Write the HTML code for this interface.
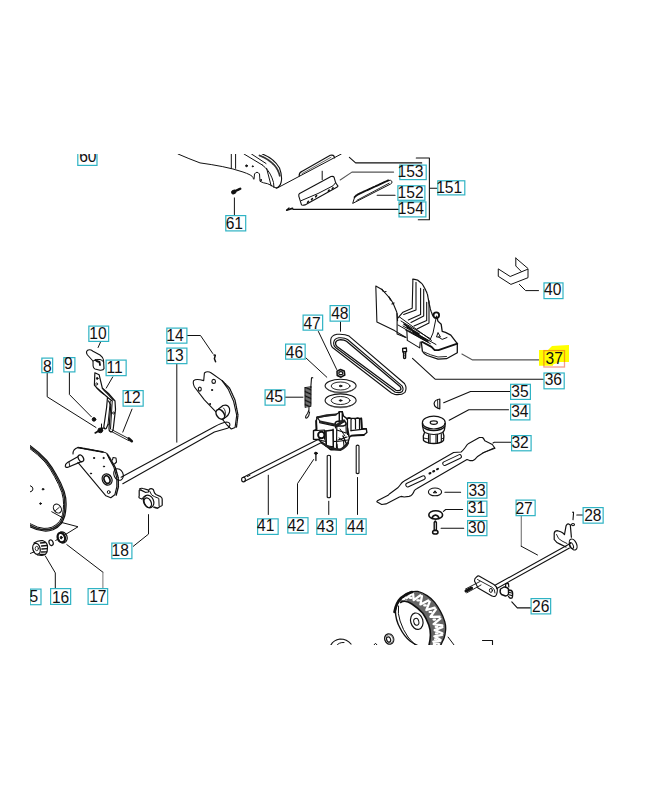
<!DOCTYPE html>
<html><head><meta charset="utf-8"><style>
html,body{margin:0;padding:0;background:#fff;}
svg{display:block;}
svg text{font-family:"Liberation Sans",sans-serif;font-size:15.6px;fill:#111;}
</style></head><body>
<svg width="652" height="800" viewBox="0 0 652 800" font-family="Liberation Sans, sans-serif" font-size="15.6">
<defs><clipPath id="cp"><rect x="30" y="154" width="592" height="491"/></clipPath></defs>
<g clip-path="url(#cp)">
<g fill="none" stroke="#111" stroke-width="1" stroke-linejoin="round" stroke-linecap="round">
<!-- top deck piece -->
<path d="M178,154 Q189,158.8 200,162.9 C215,165 230,167.5 243,172 S252,178 254,179.4 L254.5,174 Q257,170.5 259.5,174 L260,181.3 Q263,183 267.5,183.7 Q271,185 274,187 Q276,188.5 278,187.6 L341.3,154"/>
<path d="M231.3,154 V168.4 M235.6,154 V168.4"/>
<path d="M244,154 L262.3,165 M251.5,154 L266,163.5"/>
<path d="M262.3,154 Q274,158.5 279.5,168 Q282.5,176 281.2,182 Q280,187 276.2,188.2" stroke-width="1.1"/>
<path d="M259.5,155.5 Q271,160 276.5,168 Q279,172 279.8,176" stroke-width="1.8" stroke-dasharray="0.8 0.9" stroke="#333"/>
<path d="M262.3,165 Q269,170 272,177.9 Q274,182 274,187.6" stroke-width="1"/>
<path d="M266.6,168.3 L271.2,186" stroke-width="1"/>
<circle cx="246.5" cy="165.8" r="0.9" fill="#111"/>
<circle cx="252.7" cy="166.3" r="0.5" fill="#111"/>
<circle cx="261" cy="180" r="0.5" fill="#111"/>
<!-- raised strip -->
<path d="M299.2,176 Q299,172.8 301.8,171.4 L330.3,155.3 Q333.8,154.2 334.6,157.8" stroke-width="1.2"/>
<path d="M302,173.6 L331,157.3" stroke-width="0.9" stroke="#555"/>
<!-- part 153 flap -->
<path d="M299.6,193.4 L331,176.5 Q333.5,176 334.1,177.3 L335.6,182.7 L338,186.1 L336.8,187.3 L305,204.9 Q302.5,205.5 301.5,204.9 L298.8,196.1 Q298.5,194.3 299.6,193.4 Z" stroke-width="1.1"/>
<path d="M301.1,200.7 L318,193.5 L333,185.8 L335.6,182.7" stroke-width="1"/>
<path d="M307.6,202.4 L308.5,201.3 M311.5,199.7 L312.4,198.6 M315.7,196.8 L316.6,195.6 M328.3,191.2 L329.2,190.1 M332.2,188.9 L333.1,187.8" stroke-width="1.6"/>
<path d="M322.2,171.2 V179.6"/>
<!-- screw 61 -->
<path d="M235,191.2 L240.8,188.5" stroke-width="2.4" stroke-dasharray="1 0.6"/>
<ellipse cx="233.8" cy="192" rx="2.2" ry="1.8" transform="rotate(-25 233.8 192)" fill="#111"/>
<path d="M234.4,197.9 V215"/>
<!-- screw 154 -->
<path d="M287.2,210 L292.5,208.3" stroke-width="1.8"/>
<path d="M286.5,210.3 L289,208" stroke-width="1.2"/>
<path d="M293,209.4 H398.4" stroke-width="1.1"/>
<!-- part 152 strip -->
<path d="M354.6,197.2 Q356.5,195 359.2,193.8 L388.3,180.4" stroke-width="1.9" stroke-dasharray="1.1 0.6"/>
<path d="M388.3,180.4 Q391,179.6 392,181.5 Q392.5,183 390.6,184 L352.7,203.4 L354.6,197.2" stroke-width="1"/>
<path d="M356.9,200.3 L389.1,183.2" stroke-width="0.9"/>
<path d="M377.2,195.3 H395" stroke-width="1.1"/>
<!-- leaders 151/153 -->
<path d="M349.4,157.4 L355.6,162.9 H421.7" stroke-width="1.1"/>
<path d="M340.2,180 L351.9,172.1 H393.6" stroke="#555" stroke-width="1.1"/>
<path d="M416.3,158 H429.4 V219.8 H418.3 M429.4,188.3 H437.2" stroke-width="1.1"/>
<!-- part 10 knob -->
<path d="M87.5,355 Q85.5,352 87.5,350.3 Q90,349 93,351.2 L100,355 Q103.3,357.5 103.5,360 L104,368.5 Q103.5,370.5 100,370.2 L95,369 Q93.3,368.3 93.1,366 L93,361 Z" stroke-width="1.1"/>
<path d="M93,361 Q97,358.5 100,359.5 Q103,360 103.5,362" stroke-width="1"/>
<path d="M95.5,360 Q97,361.5 99.5,362 L100,365" stroke-width="1.8"/>
<path d="M100.6,341.9 L98.1,347.5"/>
<!-- part 11 lever -->
<path d="M94.85,372.8 L99.1,374.7 L102.4,388.3 L108.5,393.5 L115,401 L115.5,409.4 L113.1,430 Q112,432.5 110.3,431.6 Q108.8,430.8 109,428.5 L110.8,405 L108.5,401 M94.85,372.8 L94.4,385 L97.2,388.3 L107.5,397.2 L106.6,407.5 L103.8,427 Q104.5,429.5 106.2,428.5 L108,424.4" stroke-width="1.2"/>
<path d="M102.4,388.3 Q104,391 107.5,393.8 L113.2,400 M97.2,388.3 Q100,391.5 103.5,394" stroke-width="1.1"/>
<path d="M110.3,401 L108,424.4 M112.2,401.9 L110.5,429" stroke-width="1"/>
<path d="M107.6,397.5 L112.3,401" stroke-width="1.4"/>
<ellipse cx="97.2" cy="378.4" rx="0.8" ry="1" fill="#111"/>
<ellipse cx="96.7" cy="384" rx="0.9" ry="1.2" stroke-width="0.8"/>
<circle cx="113.5" cy="413" r="1" stroke-width="0.9"/>
<path d="M112.75,376.9 L106.25,388.1"/>
<!-- 8, 9 parts and leaders -->
<path d="M47.2,373.25 V396.8 L96,427.5"/>
<path d="M69.4,372.5 V394.5 L91.4,416.8"/>
<circle cx="94" cy="419.4" r="1.8" fill="#111"/>
<path d="M95.2,432.9 L102.9,428.3" stroke-width="1.8"/>
<circle cx="100.3" cy="430.4" r="2.4" fill="#111"/>
<path d="M101.5,424 L101.5,428" stroke-width="1"/>
<!-- part 12 rod -->
<path d="M112,429.8 L129.5,439 M111.6,431.6 L129,440.8" stroke-width="0.9"/>
<path d="M128.8,438.5 L131.8,441.2" stroke-width="2.6"/>
<path d="M132,409.1 L122.8,432.1"/>
<!-- part 14 pin -->
<path d="M187.5,335.5 H200.5 L212.75,353.5"/>
<path d="M214,355 L215.3,355.3 L214.4,358.8 L215.6,361.8" stroke-width="1.5"/>
<!-- 13 leader -->
<path d="M176.8,364.25 V442.2"/>
<!-- right plate -->
<path d="M193.7,380.6 Q196,378.5 203.7,380.6 L204.4,373 Q207.5,370.5 211.3,373 L222.1,380.6 L228.2,389.1 L233.6,401.3 L236.7,415.2 L235.1,427.4 L231.3,429 L227,425 L219,415.2 L204.4,399.8 L194.5,387 Q192.5,383 193.7,380.6 Z" stroke-width="1.1"/>
<path d="M222.1,380.6 L229.5,388 L235,400 L238,415 L236.5,427" stroke-width="1.3" stroke-dasharray="1.2 0.8"/>
<ellipse cx="199.8" cy="389.1" rx="1.5" ry="2" stroke-width="1.1"/>
<ellipse cx="213.7" cy="381.4" rx="1.8" ry="2" stroke-width="1.1"/>
<circle cx="212" cy="390" r="0.6" fill="#111"/>
<circle cx="210" cy="404" r="0.5" fill="#111"/>
<path d="M218.5,409 L223,405.5 Q228,404 229.5,408.5 Q230.5,413.5 226,417 L222.5,419.5" stroke-width="1.2" fill="#fff"/>

<ellipse cx="220.3" cy="414.3" rx="3.6" ry="5.4" transform="rotate(-35 220.3 414.3)" stroke-width="1.5" fill="#fff"/><path d="M223.5,408 Q226.5,411 225,416" stroke-width="0.9"/>
<!-- axle 13 -->
<path d="M121.1,477.2 L214.4,426.8 Q222,422.5 226.7,422 Q230.5,422.5 229.8,425.5 Q228.5,428.5 227.5,428.2 L214.4,432 L122.8,483.7" stroke-width="1.1"/>
<!-- left plate -->
<path d="M73,454 Q72.8,449 78,447.5 L102.9,452 Q106,452.5 106.9,453.5 L108.9,458 L113.8,466.9 L116.8,477.9 L116.8,486.9 L114.8,494.8 L110.8,497.8 L105.9,495.8 L77.9,462.4" stroke-width="1.1"/><path d="M78,447.5 L102.9,452" stroke-width="1.6" stroke-dasharray="1.5 0.6"/>
<path d="M107.5,454.5 L110.3,458.8 L115.3,467.5 L118.3,478 L118.3,487 L116.2,495" stroke-width="1.5" stroke-dasharray="1 0.8"/>
<path d="M80,455.5 L67.5,462.5 Q65,464 65.3,466.2 Q66,468 68,467.2 L81.9,461.4" stroke-width="1.2"/><path d="M69,462 L69.8,466.5" stroke-width="0.9"/>
<ellipse cx="80.9" cy="458.3" rx="2.4" ry="3.6" transform="rotate(-30 80.9 458.3)" stroke-width="1.3" fill="#fff"/>
<ellipse cx="107.1" cy="479.5" rx="4.8" ry="5.8" transform="rotate(-25 107.1 479.5)" stroke-width="1.2"/>
<ellipse cx="107" cy="479.6" rx="2.8" ry="4" transform="rotate(-25 107 479.6)" stroke-width="1.8"/>
<ellipse cx="108.7" cy="492.1" rx="1.4" ry="1.5" stroke-width="1"/>
<path d="M112.5,460 L113,457.5 L116,458 L116.5,462 L114.5,464" stroke-width="1.1"/>
<ellipse cx="118.5" cy="474.5" rx="4.5" ry="6" transform="rotate(-25 118.5 474.5)" stroke-width="1.1"/>
<circle cx="94" cy="458" r="0.6" fill="#111"/>
<circle cx="103.5" cy="458" r="0.6" fill="#111"/>
<circle cx="104" cy="466.5" r="0.6" fill="#111"/>
<circle cx="91" cy="473.5" r="0.6" fill="#111"/>
<!-- part 18 -->
<path d="M141,490.1 Q139,489.5 139.2,491 L139.2,496 Q138.3,497.5 140,498.3 L142,499" stroke-width="1.2"/>
<path d="M139.5,489 Q141,487.8 143,488.5 L147.8,489.8 Q149,490.5 148.4,492 L145.3,492.3 L141,490.1" stroke-width="1.2"/>
<path d="M149,489.5 Q151,487.8 153.3,489.5 L154.5,492.9 Q155.5,494.2 156.4,494.7 L160.7,496.6 Q162.5,498 162.2,499.6 L162.2,505.2 Q161.5,506.3 160,506.4 L157.6,508.2 L154.5,507" stroke-width="1.2"/>
<path d="M149.6,491 L151.5,494.7 Q153,496 154.5,496.6 L158.8,498.4 L159.1,505.8" stroke-width="1"/>
<ellipse cx="148.6" cy="501.5" rx="5" ry="6.5" transform="rotate(-25 148.6 501.5)" stroke-width="1.2"/>
<ellipse cx="147.8" cy="502.7" rx="3.3" ry="5" transform="rotate(-25 147.8 502.7)" stroke-width="1.3"/>
<path d="M142,499 Q143,496 146,495.5 M153,507 Q155,508.5 157.6,508.2" stroke-width="1"/>
<path d="M148.5,514.6 V534.1 L133.3,546.3"/>
<!-- big left wheel -->
<path d="M20,440 Q24,442 29.9,445.5 Q39,452 46.75,460.5 Q52.5,467.5 56.75,475.5 Q61.5,483.5 64.25,491.75 Q66.2,498 66.1,504.25 Q66,510 64.9,515.5 Q63.5,519.8 61.75,523 Q58,527.5 53,529.8 Q48.5,531.3 44.25,531 Q37,530.5 30.5,527 L20,522" stroke-width="1.2"/>
<path d="M20,442.6 Q24,444.6 29.2,448 Q37.8,454.3 45,462 Q50.6,469 54.5,476.6 Q59,484.5 61.8,492.4 Q63.7,498.4 63.6,504.3 Q63.5,509.6 62.5,514.7 Q61.2,518.6 59.6,521.3 Q56.2,525.2 52,527.2 Q47.8,528.6 44,528.4 Q37.5,527.9 31.5,524.3 L20,519.3" stroke-width="1"/>
<path d="M20,441.3 Q24,443.3 29.5,446.8 Q38.4,453.2 45.9,461.3 Q51.5,468.3 55.6,476 Q60.2,484 63,492 Q64.9,498.2 64.8,504.3 Q64.7,509.8 63.7,515.1 Q62.3,519.2 60.7,522.2 Q57.1,526.3 52.5,528.5 Q48.1,530 44.1,529.7 Q37.2,529.2 31,525.6 L20,520.6" stroke-width="1.6" stroke-dasharray="0.7 0.7" stroke="#222"/>
<path d="M29.9,485.5 Q33,486.5 33,489 Q32.8,491.5 30,492"/>
<circle cx="43" cy="489.25" r="0.8" fill="#111"/>
<circle cx="40.5" cy="503.6" r="0.8" fill="#111"/>
<ellipse cx="57.4" cy="508.6" rx="3.6" ry="4.8" transform="rotate(-35 57.4 508.6)" stroke-width="1.1"/><path d="M55.5,510.5 L59.2,507.4" stroke-width="0.9"/>
<path d="M51.75,511.75 L63.5,518.2 M61,522.3 L78,526.75 L65.5,534.5"/>
<!-- 16, 17 -->
<ellipse cx="62.5" cy="537.3" rx="4.6" ry="5.6" transform="rotate(-20 62.5 537.3)" stroke-width="1.2"/>
<ellipse cx="61.3" cy="537.6" rx="3.6" ry="4.8" transform="rotate(-20 61.3 537.6)" stroke-width="2.2"/>
<ellipse cx="61.2" cy="537.6" rx="0.9" ry="1.3" fill="#111"/>
<ellipse cx="51.1" cy="542.7" rx="2" ry="2.9" transform="rotate(-20 51.1 542.7)" stroke-width="1.2"/>
<path d="M55.7,540.4 L58,539.2" stroke-width="1"/>
<path d="M34,543 Q38,540 43,540.7 Q47,542 47.5,546 L47.2,551 Q46.5,555 42,555.3 L37.5,555" stroke-width="1.2"/>
<ellipse cx="36.5" cy="548.8" rx="3.6" ry="5.6" transform="rotate(-15 36.5 548.8)" stroke-width="1.3"/>
<ellipse cx="36.8" cy="548.5" rx="1.6" ry="2.2" stroke-width="0.8"/>
<path d="M40.5,543 L45.5,542.5 M41.5,546 L47,545.5 M41.8,549 L47.3,548.7 M41.5,552 L46.8,551.8 M40,554.5 L45,554.5" stroke-width="1.3"/>
<path d="M30.4,553.4 L34.2,551.9"/>
<path d="M45.4,556.1 L55.3,572.9 V588.5"/>
<path d="M66.8,544.6 L102.9,572.2" stroke-width="1"/><path d="M102.9,572.2 V588.5" stroke="#777"/>
<!-- belt 48 -->
<path d="M340.5,321.75 V331.25"/>
<path d="M330.7,340 Q331,335.5 337,334.3 Q345,333.8 349.1,336.1 L404.5,383.5 Q407.3,388 405,392.3 Q401.5,395.3 395,394.5 L391.5,393 L332.5,347.5 Q330.5,345.5 330.7,340 Z" stroke-width="1.1"/>
<path d="M333.6,343 Q334,338.6 338.8,337.8 Q344.5,337.3 347.6,339.5 L402,385.8 Q404,389 402.3,391.5 Q400,393.3 395.3,392.3 L335.5,347.5 Q333.5,346 333.6,343 Z" stroke-width="1.1"/>
<path d="M335.5,342.8 Q336,340.3 339.3,339.8 Q344,339.5 346.5,341.3 L400.3,386.8 Q401.5,388.8 400.5,390 Q399,391 396,390.3 L337,346.5 Q335.3,345 335.5,342.8 Z" stroke-width="1.3"/>
<!-- 47 nut, 46 discs -->
<path d="M318.4,331.5 L336.7,369.5"/>
<path d="M305.8,357.8 L326.8,377.2"/>
<path d="M337,371.2 L340.5,369.5 L344.3,371 L344.8,375 L341,377.2 L337.2,375.5 Z" stroke-width="1.5" fill="#bbb"/>
<ellipse cx="340.8" cy="373.2" rx="2" ry="1.5" fill="#fff" stroke-width="1.2"/>
<ellipse cx="340.6" cy="385.8" rx="15.5" ry="6.5" stroke-width="1.1"/>
<path d="M325.8,387.5 Q329,392.8 340.6,393 Q352,392.8 355.5,387.5" stroke-width="0.7" stroke="#555"/>
<ellipse cx="340.6" cy="386" rx="9.4" ry="4" stroke-width="0.9"/>
<ellipse cx="340.6" cy="386" rx="1.3" ry="0.7" fill="#111"/>
<ellipse cx="340.6" cy="400.5" rx="15.5" ry="6.6" stroke-width="1.1"/>
<path d="M325.8,402.3 Q329,407.6 340.6,407.8 Q352,407.6 355.5,402.3" stroke-width="0.7" stroke="#555"/>
<ellipse cx="340.6" cy="400.5" rx="9.4" ry="4" stroke-width="0.9"/>
<ellipse cx="340.6" cy="400.5" rx="1.3" ry="0.7" fill="#111"/>
<!-- spring 45 -->
<path d="M285.5,397.2 H303"/>
<path d="M310.8,387.5 L311.5,378 Q312,377 312.8,377.8" stroke-width="1.1"/>
<path d="M305,387.6 L311,386.8 M305,388.9 L311,388.1 M305,390.2 L311,389.4 M305,391.5 L311,390.7 M305,392.8 L311,392 M305,394.1 L311,393.3 M305,395.4 L311,394.6 M305,396.7 L311,395.9 M305,398 L311,397.2 M305,399.3 L311,398.5 M305,400.6 L311,399.8 M305,401.9 L311,401.1 M305,403.2 L311,402.4 M305,404.5 L311,403.7 M305,405.8 L311,405 M305.5,407.1 L310.5,406.3" stroke-width="1"/>
<path d="M305,387.5 L305.2,407.5 M311,386.8 L310.8,406.5" stroke-width="0.8"/>
<path d="M309,407 Q309.5,411 307.5,413.5 Q305.3,416 305.6,417.8 Q307,419 308.8,415.5 L309.6,412" stroke-width="1.1"/>
<!-- gearbox -->
<path d="M317.2,417.2 L335.6,414.7 L338.5,413 L339.3,411.7 L342.3,411.7 L343.5,416 L346.6,418.4 L361.3,418.4 L361.8,428.6 L366.3,428.8 L366.9,432.5 L363.8,435 L351.5,435.6 L349.7,436.8 L347.9,442.9 L340.5,449.7 L330.7,449.7 L322.1,442.9 L318.5,439.5 L313.5,439.3 L313.5,430.7 L316.5,429.5 L316.2,421 Z" stroke-width="1.4"/>
<path d="M319.6,422.7 L336.8,426.4 L345,421 M317.2,417.2 L320,421.5 M336.8,426.4 L336.5,447.5 M325.8,430.7 L326.3,446 M333.1,429 L333.3,448" stroke-width="1.2"/>
<path d="M339.3,411.7 L339.3,422.1 M342.3,411.7 L342.3,422.1" stroke-width="1.4"/>
<ellipse cx="340.6" cy="423.5" rx="5.5" ry="2.6" stroke-width="1.5"/>
<path d="M335.2,423.8 L335.5,428 M346,423.8 L346.2,433" stroke-width="1.1"/>
<path d="M347.5,419 L347.5,434.5 M351,419.5 L351,430.7 M355.5,419.5 L355.5,428.8 M359.5,419 L359.5,428.6" stroke-width="1.2"/>
<path d="M351,430.7 L366.3,428.8" stroke-width="1.2"/>
<path d="M346.5,419 Q349,416 351.5,419 M355,419.3 Q357.7,416.5 360,419.3" stroke-width="1.2"/>
<path d="M318.5,439.5 Q328,443.5 347.9,440" stroke-width="1.1"/>
<path d="M328,444.5 L330,449 M337,444 L337.5,449 M343.5,441.5 L344,446" stroke-width="1.1"/>
<path d="M313.5,430.7 L324.5,430 L324.5,439.3" stroke-width="1.1"/>
<circle cx="321.3" cy="435" r="3.2" stroke-width="1.9"/>
<path d="M340,429 L345,436 M329,432 L331,438 M339,438 L344,441" stroke-width="1"/>
<path d="M320,421.5 L336.8,425 L344,420.5" stroke-width="2.2" stroke="#222"/>
<path d="M317,417.5 Q327,414.5 336,414.5" stroke-width="2" stroke="#222"/>
<path d="M326,431 L333,430 L333.3,447 L326.3,446 Z" fill="#fff" stroke-width="1.5"/>
<path d="M322.1,442.9 Q331,449.5 340.5,449.7 Q346,447 347.9,442.9" stroke-width="2.4" stroke="#222"/>
<path d="M349,436.5 L347.5,428 M343,436 L346.5,444" stroke-width="1.5"/>
<path d="M361.3,418.4 L361.8,428.6 M363.8,435 L351.5,435.6" stroke-width="1.8"/>
<path d="M316.5,429.5 L316.2,421" stroke-width="1.8"/>
<path d="M336.8,430 L346,433 M338,440 L347,437" stroke-width="1.2"/>
<!-- axle 41 -->
<path d="M243,477.5 L320.5,438.3 M244.6,481.3 L322,442.2" stroke-width="1.1"/>
<ellipse cx="243.5" cy="479.6" rx="1.9" ry="2.3" stroke-width="1.1"/>
<path d="M247.5,476.5 L250,475.3"/>
<path d="M268.3,475.2 V514.5"/>
<!-- 42 -->
<path d="M315.9,452.5 V460.6" stroke-width="1.3"/>
<ellipse cx="315.9" cy="453.3" rx="1.5" ry="1" fill="#111"/>
<path d="M313.6,459.5 L297.5,483.6 V514"/>
<!-- 43, 44 -->
<path d="M327.2,456 V497 Q328.8,498.5 330.5,497 V456 Q328.8,454.5 327.2,456 Z" stroke-width="1.1"/>
<path d="M328.75,501.25 V514.5"/>
<path d="M356.2,445.8 V473 Q357.6,474.3 359,473 V445.8 Q357.6,444.5 356.2,445.8 Z" stroke-width="1.1"/>
<path d="M357.5,477.5 V514.5"/>
<!-- part 37 cover -->
<path d="M375.8,286.1 L376.9,322.1 L394.5,330.6 L406,337.5 M375.8,286.1 L381.5,289.2 L383.8,291.5 L390,298.4 L393,303 L396.8,312.2 L397.6,320.6" stroke-width="1.1"/>
<path d="M381.9,289.2 L383,291 M384.5,292 L386,291.5 M389,297 L390.5,300 M392,304 L394,303" stroke-width="1.2"/>
<path d="M412.9,279.2 L417.5,280 L422.1,283.8 Q425.5,289 427.5,294.5 L429,303 L430.6,309.9 L432.9,316" stroke-width="1.2" stroke-dasharray="3 0.7"/>
<path d="M412.9,279.2 L412.2,308.3 L403,312.2 L397.6,318.4" stroke-width="1.1"/>
<path d="M416,282.3 V309.9 L403.7,314.5 M420.6,288.4 V314.5 L408.3,320 M423.7,289.2 V316 L411,322.5 M426.7,302.2 V320.6 L414,326 M429,300.7 V322.9 L417,329" stroke-width="1.1"/>
<path d="M399.3,316.8 L431.5,340.4 M401,321 L430,338.5 M398,325 L428,342 M403,326 L436,344.5 M405.5,330 L430.4,343.7 M409,330.8 L425,340.5" stroke-width="1"/>
<path d="M404,324 L412,329.5 M407,327 L419,334 M413,332 L428,341" stroke-width="1.6"/>
<path d="M397.1,313.6 L397.1,334 L405.2,337.2" stroke-width="1.1"/>
<path d="M406.8,329.7 L407.3,340.4 L419.7,347.9 L420.2,342" stroke-width="1.1"/>
<path d="M421.3,342 L422.4,351.2 Q424,354 427.2,355.5 L438,359.2 L446.5,358.7 L457.3,352.8 L457.3,343.7 L450.8,335.1 L445.5,332.4 L442.2,331.3 L441.2,324.3 L437.9,321.1 L436.9,316.8" stroke-width="1.3"/>
<path d="M422.4,342 L431.5,346.9 L434.7,350.1 L438.5,350.1 L457.3,343.7" stroke-width="1.8"/>
<path d="M424,352 Q430,355 438,357 L446.5,356.5" stroke-width="0.9"/>
<path d="M436.5,316 L433,333 L430,340" stroke-width="1"/>
<circle cx="436.3" cy="315.2" r="2.8" stroke-width="1.8"/>
<path d="M437.9,332.9 L436.5,337 L440,337 Z M438.5,337 L442.2,339.4 L447,337.5" stroke-width="1"/>
<!-- 37 leader (gray) -->
<path d="M461.9,354 L472.6,359.9 H539" stroke="#555" stroke-width="1.1"/>
<!-- screw 36 -->
<path d="M402.6,348.5 L406.4,348 L406.6,351.5 L402.8,352 Z" stroke-width="1.3"/>
<path d="M403.5,352 L403.6,358 Q404.6,359 405.6,358 L405.7,351.7" stroke-width="1.3"/>
<path d="M403.6,354 L405.6,353.6 M403.6,356 L405.6,355.6" stroke-width="0.8"/>
<path d="M412.5,358.3 L435.1,379.2 H543.4" stroke-width="1.1"/>
<!-- part 40 -->
<path d="M498.6,269.1 L510.2,276.5 L528,269.1 L528,277.7 L510.9,284.4 L498.6,276.5 Z" stroke-width="1"/>
<path d="M515.8,258.1 L528,268.5 M515.8,258.1 L515.8,266 L521.3,271.5" stroke-width="1"/>
<path d="M519.4,284.4 L525.6,290.6 H538.5"/>
<!-- key 35 -->
<path d="M439.8,399 L439.8,408.8 Q434.3,407.5 434.1,403.5 Q434.5,399.8 439.8,399 Z" stroke-width="1.2"/>
<path d="M437.6,399.8 L437.8,408" stroke-width="0.9"/>
<path d="M443.7,402.8 L470.5,391.5 H510" stroke-width="1.1"/>
<!-- pulley 34 -->
<ellipse cx="433.8" cy="422.6" rx="11.4" ry="6.4" stroke-width="1.2"/>
<ellipse cx="433.8" cy="422.6" rx="3.6" ry="1.8" stroke-width="1.2"/>
<path d="M422.4,423.5 L422.6,426.5 Q426,430.5 433.8,430.6 Q441.5,430.5 445,426.5 L445.2,423.5" stroke-width="1.3"/>
<path d="M422.8,427 Q423,431 425,432.5 Q429,434.5 433.8,434.5 Q439,434.5 442.5,432.5 Q444.8,431 444.8,427" stroke-width="1.2"/>
<path d="M424.5,432.5 L423.3,436 L423.5,440.5 Q427,443.5 433.8,443.5 Q440.5,443.5 443.5,440.5 L443.9,436 L443,432.5" stroke-width="1.3"/>
<path d="M428.5,434.5 L428.5,443 M430,434.8 L430,443.3 M436,434.8 L436,443.3 M437.5,434.6 L437.5,443.2 M441.3,433.8 L441.3,441.8" stroke-width="1.1"/>
<path d="M423.5,438 L428.5,439 M441.3,439 L443.7,438" stroke-width="0.9"/>
<path d="M449.2,420.2 L468.8,409.8 H508.5" stroke-width="1.1"/>
<!-- blade 32 -->
<path d="M376.8,501.8 L377.4,500.7 L388.1,495.3 L389.7,493.7 L397.8,487.8 Q400,485.5 400.5,484.6 Q402,482 404.2,480.9 L453.6,452.5 L461.1,452 Q463.5,450 465.4,447.2 Q467,444.5 468.7,443.4 L479.4,437.5 L482.6,437.5 Q484,439 484.8,440.7 L492.3,444.5 L495,448.3 L483.7,452.5 L477.2,456.8 Q475,459.5 473,460.6 L469.7,460.6 L467,459.5 L417.1,488.4 Q415,489.5 414.4,490.5 Q413.5,493 412.3,494.3 Q411,496 409,496.4 L404.2,497 L401,496.4 L399.4,497 L386,503.9 L381.7,504.5 Z" stroke-width="1.1"/>
<path d="M482.6,453.1 L494.4,447.7" stroke-width="0.9"/>
<rect x="405" y="479.6" width="21" height="3.8" rx="1.9" transform="rotate(-25 415.2 481.4)" stroke-width="1"/>
<rect x="442" y="458.2" width="20.2" height="3.8" rx="1.9" transform="rotate(-25.3 452 460.1)" stroke-width="1"/>
<path d="M429.5,473.5 L430.5,473 M433.2,471.5 L434.2,471 M437,469.3 L438,468.8" stroke-width="2" />
<path d="M493,443 L494.4,442.3 H511" stroke-width="1.1"/>
<!-- washer 33 -->
<ellipse cx="435" cy="491.9" rx="6.6" ry="3.9" stroke-width="1.1"/>
<path d="M433.5,492.5 L435,490.8 L436.5,492.5 Z" fill="#111" stroke-width="1"/>
<path d="M444.9,492.3 H460.6" stroke-width="1.1"/>
<!-- washer 31 -->
<ellipse cx="435.7" cy="514.9" rx="6.9" ry="4.2" stroke-width="1.6"/>
<path d="M432,518.5 Q432.5,515.5 435.5,515 Q438.5,515.5 439,518.5" stroke-width="1.6"/>
<path d="M443.4,511.4 L445.7,509.5 H462.6" stroke-width="1.1"/>
<!-- bolt 30 -->
<path d="M434.2,522.5 L435.3,521 L436.4,522.5 L436.4,530.5 L434.2,530.5 Z" stroke-width="1.4"/>
<ellipse cx="435.3" cy="532.2" rx="2.7" ry="1.9" stroke-width="1.5"/>
<path d="M441.1,528.3 H463.7" stroke-width="1.1"/>
<!-- axle 27 -->
<path d="M495.4,585 L570.7,543.3 M496.9,588.4 L569.5,548" stroke-width="1.1"/>
<path d="M521.25,516.25 V546.25" stroke="#666"/><path d="M521.25,546.25 L537.5,555"/>
<path d="M564.5,534.5 L566.1,525.7 Q566.8,524 568,523.8 L570.3,524.9 L571.4,537.2" stroke-width="1.2"/>
<path d="M564.5,534.5 Q562.5,532.5 560.7,531.8 L557.6,530.7 Q554.5,530.8 554.2,533.4 L554.2,539.5 Q556,542.5 560,544.1 L566,547" stroke-width="1.2"/>
<path d="M556.5,534.5 Q558,539.5 562,541 L567,543.5" stroke-width="0.9"/>
<ellipse cx="573.2" cy="544.5" rx="3.3" ry="5.8" transform="rotate(-25 573.2 544.5)" stroke-width="1.2"/>
<ellipse cx="571.4" cy="545.6" rx="1.8" ry="3.2" transform="rotate(-25 571.4 545.6)" stroke-width="1"/>
<path d="M572.7,512.3 Q573.8,511.5 573.5,513.5 L573,519.6" stroke-width="1.1"/>
<ellipse cx="573" cy="524.6" rx="1.5" ry="1.1" stroke-width="1.1"/>
<path d="M576.8,515 H582.6" stroke-width="1.1"/>
<path d="M476.5,577 Q478,575.5 479,576 L493.9,584.5 Q497.5,587 497.4,590 Q497,595.5 494.9,596.4 Q493,596.8 491.9,595.9 L478,588 L474.5,581 Q474.3,578.5 476.5,577 Z" stroke-width="1.1"/>
<path d="M477.5,579.5 L492.5,587.5 Q495,589.5 495,593" stroke-width="0.9"/>
<ellipse cx="490.9" cy="590.4" rx="1.5" ry="2" stroke-width="1"/>
<path d="M465.5,589 L480,581.5 M466.8,592.8 L481,585" stroke-width="0.9"/>
<path d="M466,591 L472,587.8" stroke-width="3" stroke-dasharray="0.7 0.7"/>
<path d="M500.5,589 Q499.3,592.5 501.5,594.5 L505.5,596 Q507.5,596 508.5,594 L508.5,589 Q507,586.8 504,587 Z" stroke-width="1.4"/>
<path d="M505.5,587 L505.8,583.5 L508.5,583.6 L508.8,587" stroke-width="1.2"/>
<path d="M508.5,590 Q512,590 512.5,592 Q513,596 512,598 Q510,599 508.5,596.5" stroke-width="1.3"/>
<path d="M508.8,592.3 L512.6,593.2 M508.8,594.8 L512.4,595.6" stroke-width="1.1"/>
<path d="M511.8,601.9 L517.3,607.9 H530.5" stroke-width="1.1"/>
<!-- rear wheel -->
<path d="M400.1,599.0 L408.0,593.5 L417.8,591.4 L427.1,595.6 L434.7,602.3 L440.6,611.6 L444.8,621.8 L445.6,630.2 L443.9,638.6 L441.5,643.0 L440.5,646.0 L428.8,646.0 L429.8,641.0 L430.4,635.3 L430.0,630.0 L428.8,625.1 L426.0,619.0 L422.8,613.3 L417.5,608.2 L411.9,604.0 L406.0,600.2 L400.5,602.5 Z" fill="#666" stroke="none"/>
<path d="M404.7,596.7 L406.6,598.2 L411.3,594.3 M413.1,594.1 L413.7,600.2 L420.2,595.3 M421.9,596.2 L420.4,604.4 L428.2,600.4 M429.7,601.7 L426.4,610.0 L434.7,607.7 M435.8,609.5 L430.4,616.8 L439.6,616.7 M440.3,618.6 L433.6,624.1 L442.3,625.5 M442.4,627.1 L434.7,630.1 L442.3,633.3 M442.0,634.9 L434.4,636.3 L440.6,639.9 M440.2,640.8 L433.3,641.6 L439.0,644.0" stroke="#fff" stroke-width="2.3"/>
<path d="M402.8,599.1 L404.4,599.1 M409.9,597.8 L411.5,597.8 M417.4,600.4 L419.0,600.4 M424.2,605.4 L425.8,605.4 M429.6,612.0 L431.2,612.0 M433.5,619.6 L435.1,619.6 M435.7,626.9 L437.3,626.9 M435.9,633.4 L437.5,633.4 M435.0,639.3 L436.6,639.3 M433.8,644.0 L435.4,644.0" stroke="#fff" stroke-width="2.2"/>
<path d="M395.4,610.8 Q396.5,604 400.1,599 Q404,594.5 410.2,592.2 Q414,591 417.8,591.4 Q422.5,592.5 427.1,595.6 Q431.5,598.5 434.7,602.3 Q438,606.5 440.6,611.6 Q443.3,616.5 444.8,621.8 Q446,626 445.6,630.2 Q445.3,634.5 443.9,638.6 Q442,642 440.5,646" stroke-width="1.3"/>
<path d="M400.5,602.5 Q405.5,599.5 411.9,604 Q418,608 422.8,613.3 Q426.5,618.5 428.8,625.1 Q430.5,630 430.4,635.3 Q430.3,640 428.8,646" stroke-width="1.6"/>
<path d="M395.4,610.8 Q395.5,620 400,628 Q404,636 410,641 Q414,644 418.6,646" stroke-width="1.4"/>
<path d="M398.5,606 Q397.5,614 400.1,621 Q403,630 408,637 Q412,642 416,645.5" stroke-width="1"/>
<path d="M394.5,612 Q396,603 401,598 Q406,593.5 412,592" stroke-width="2.6"/>
<ellipse cx="416.8" cy="621.2" rx="6.1" ry="8.3" transform="rotate(-15 416.8 621.2)" stroke-width="1.2"/>
<ellipse cx="416.3" cy="621.8" rx="2.5" ry="3.5" transform="rotate(-15 416.3 621.8)" stroke-width="1"/>
<ellipse cx="389.2" cy="639" rx="4.4" ry="5.3" transform="rotate(-20 389.2 639)" stroke-width="1.3"/><ellipse cx="389.8" cy="638.8" rx="3.2" ry="4.2" transform="rotate(-20 389.8 638.8)" stroke-width="1" stroke="#777"/>
<ellipse cx="388.6" cy="639.5" rx="2" ry="2.6" transform="rotate(-20 388.6 639.5)" stroke-width="1.1"/>
<path d="M330.4,646 Q333,640 340,639 Q347,639 351,644" stroke-width="1.2"/>
<path d="M336,646 Q339,642 344,642.5" stroke-width="1"/>
<path d="M373.5,645.5 L375.5,643.3 L377.5,645.5" stroke-width="1"/>
<path d="M448.1,637.1 L454.8,646" stroke-width="1"/>
<path d="M482.5,640.5 H492.5 V646" stroke-width="1.1"/>

</g>
<rect x="77.80" y="150.10" width="19.20" height="15.30" fill="#fff" stroke="#2fb3c4" stroke-width="1.2" /><text transform="translate(87.80,161.57) scale(1.0,1)" text-anchor="middle">60</text>
<rect x="225.80" y="215.60" width="19.90" height="15.30" fill="#fff" stroke="#2fb3c4" stroke-width="1.2" /><text transform="translate(234.35,229.12) scale(1.0,1)" text-anchor="middle">61</text>
<rect x="399.80" y="165.10" width="26.40" height="14.50" fill="#fff" stroke="#2fb3c4" stroke-width="1.2" /><text transform="translate(410.50,176.77) scale(1.0,1)" text-anchor="middle">153</text>
<rect x="397.90" y="185.80" width="27.00" height="14.50" fill="#fff" stroke="#2fb3c4" stroke-width="1.2" /><text transform="translate(410.60,198.02) scale(1.0,1)" text-anchor="middle">152</text>
<rect x="399.00" y="201.90" width="26.90" height="15.00" fill="#fff" stroke="#2fb3c4" stroke-width="1.2" /><text transform="translate(410.85,213.97) scale(1.0,1)" text-anchor="middle">154</text>
<rect x="437.80" y="180.80" width="27.00" height="14.10" fill="#fff" stroke="#2fb3c4" stroke-width="1.2" /><text transform="translate(449.15,192.72) scale(1.0,1)" text-anchor="middle">151</text>
<rect x="544.00" y="282.90" width="19.00" height="15.70" fill="#fff" stroke="#2fb3c4" stroke-width="1.2" /><text transform="translate(552.65,294.87) scale(1.0,1)" text-anchor="middle">40</text>
<rect x="544.00" y="373.00" width="20.20" height="15.80" fill="#fff" stroke="#2fb3c4" stroke-width="1.2" /><text transform="translate(553.35,385.47) scale(1.0,1)" text-anchor="middle">36</text>
<rect x="510.60" y="384.30" width="19.80" height="15.10" fill="#fff" stroke="#2fb3c4" stroke-width="1.2" /><text transform="translate(520.00,397.37) scale(1.0,1)" text-anchor="middle">35</text>
<rect x="510.60" y="404.20" width="19.30" height="15.70" fill="#fff" stroke="#2fb3c4" stroke-width="1.2" /><text transform="translate(519.85,417.07) scale(1.0,1)" text-anchor="middle">34</text>
<rect x="511.60" y="435.60" width="19.50" height="15.20" fill="#fff" stroke="#2fb3c4" stroke-width="1.2" /><text transform="translate(520.05,447.67) scale(1.0,1)" text-anchor="middle">32</text>
<rect x="88.85" y="326.10" width="19.80" height="15.30" fill="#fff" stroke="#2fb3c4" stroke-width="1.2" /><text transform="translate(97.95,339.27) scale(1.0,1)" text-anchor="middle">10</text>
<rect x="41.85" y="358.10" width="10.80" height="14.55" fill="#fff" stroke="#2fb3c4" stroke-width="1.2" /><text transform="translate(47.25,371.59) scale(1.0,1)" text-anchor="middle">8</text>
<rect x="63.85" y="357.60" width="11.05" height="14.30" fill="#fff" stroke="#2fb3c4" stroke-width="1.2" /><text transform="translate(68.38,369.42) scale(1.0,1)" text-anchor="middle">9</text>
<rect x="106.10" y="360.10" width="20.05" height="15.55" fill="#fff" stroke="#2fb3c4" stroke-width="1.2" /><text transform="translate(114.62,373.34) scale(1.0,1)" text-anchor="middle">11</text>
<rect x="123.10" y="390.60" width="20.05" height="15.55" fill="#fff" stroke="#2fb3c4" stroke-width="1.2" /><text transform="translate(132.12,403.24) scale(1.0,1)" text-anchor="middle">12</text>
<rect x="166.85" y="328.10" width="20.05" height="15.05" fill="#fff" stroke="#2fb3c4" stroke-width="1.2" /><text transform="translate(174.93,340.74) scale(1.0,1)" text-anchor="middle">14</text>
<rect x="166.85" y="348.10" width="20.05" height="15.55" fill="#fff" stroke="#2fb3c4" stroke-width="1.2" /><text transform="translate(174.93,361.04) scale(1.0,1)" text-anchor="middle">13</text>
<rect x="285.60" y="344.10" width="19.55" height="15.05" fill="#fff" stroke="#2fb3c4" stroke-width="1.2" /><text transform="translate(294.38,357.84) scale(1.0,1)" text-anchor="middle">46</text>
<rect x="265.10" y="389.85" width="19.80" height="15.30" fill="#fff" stroke="#2fb3c4" stroke-width="1.2" /><text transform="translate(274.30,401.92) scale(1.0,1)" text-anchor="middle">45</text>
<rect x="303.10" y="315.10" width="19.55" height="15.05" fill="#fff" stroke="#2fb3c4" stroke-width="1.2" /><text transform="translate(312.07,328.84) scale(1.0,1)" text-anchor="middle">47</text>
<rect x="330.10" y="305.60" width="19.30" height="15.55" fill="#fff" stroke="#2fb3c4" stroke-width="1.2" /><text transform="translate(339.80,319.19) scale(1.0,1)" text-anchor="middle">48</text>
<rect x="257.60" y="518.85" width="20.55" height="15.55" fill="#fff" stroke="#2fb3c4" stroke-width="1.2" /><text transform="translate(265.77,531.49) scale(1.0,1)" text-anchor="middle">41</text>
<rect x="287.80" y="517.70" width="20.20" height="15.30" fill="#fff" stroke="#2fb3c4" stroke-width="1.2" /><text transform="translate(296.05,531.47) scale(1.0,1)" text-anchor="middle">42</text>
<rect x="316.85" y="518.85" width="19.55" height="15.55" fill="#fff" stroke="#2fb3c4" stroke-width="1.2" /><text transform="translate(325.38,531.59) scale(1.0,1)" text-anchor="middle">43</text>
<rect x="346.10" y="518.85" width="20.05" height="15.55" fill="#fff" stroke="#2fb3c4" stroke-width="1.2" /><text transform="translate(355.77,531.59) scale(1.0,1)" text-anchor="middle">44</text>
<rect x="467.60" y="482.60" width="19.30" height="15.55" fill="#fff" stroke="#2fb3c4" stroke-width="1.2" /><text transform="translate(477.05,495.54) scale(1.0,1)" text-anchor="middle">33</text>
<rect x="467.60" y="501.10" width="19.30" height="15.30" fill="#fff" stroke="#2fb3c4" stroke-width="1.2" /><text transform="translate(476.50,513.27) scale(1.0,1)" text-anchor="middle">31</text>
<rect x="467.60" y="520.60" width="19.30" height="15.05" fill="#fff" stroke="#2fb3c4" stroke-width="1.2" /><text transform="translate(476.70,532.89) scale(1.0,1)" text-anchor="middle">30</text>
<rect x="516.10" y="500.10" width="19.05" height="15.55" fill="#fff" stroke="#2fb3c4" stroke-width="1.2" /><text transform="translate(524.12,513.54) scale(1.0,1)" text-anchor="middle">27</text>
<rect x="583.10" y="507.60" width="20.05" height="15.55" fill="#fff" stroke="#2fb3c4" stroke-width="1.2" /><text transform="translate(592.83,520.89) scale(1.0,1)" text-anchor="middle">28</text>
<rect x="531.10" y="598.60" width="19.55" height="15.30" fill="#fff" stroke="#2fb3c4" stroke-width="1.2" /><text transform="translate(540.77,612.02) scale(1.0,1)" text-anchor="middle">26</text>
<rect x="111.85" y="543.10" width="20.05" height="15.55" fill="#fff" stroke="#2fb3c4" stroke-width="1.2" /><text transform="translate(120.17,556.04) scale(1.0,1)" text-anchor="middle">18</text>
<rect x="30.20" y="589.10" width="10.80" height="15.60" fill="#fff" stroke="#2fb3c4" stroke-width="1.2" /><text transform="translate(33.85,602.32) scale(1.0,1)" text-anchor="middle">5</text>
<rect x="50.60" y="588.60" width="20.05" height="15.80" fill="#fff" stroke="#2fb3c4" stroke-width="1.2" /><text transform="translate(60.58,602.67) scale(1.0,1)" text-anchor="middle">16</text>
<rect x="88.10" y="588.60" width="19.55" height="15.80" fill="#fff" stroke="#2fb3c4" stroke-width="1.2" /><text transform="translate(97.83,602.37) scale(1.0,1)" text-anchor="middle">17</text>
<polygon points="539,350 548,350 552,346 560,345.5 569,345 569,362 560,362 553,364.5 553,365.7 539,365.7" fill="#ffff00"/><rect x="543.9" y="350.6" width="20.6" height="16.4" fill="none" stroke="rgb(235,60,30)" stroke-opacity="0.5" stroke-width="1.3"/><text transform="translate(554.2,363.97) scale(1.0,1)" text-anchor="middle">37</text>
</g>
</svg>
</body></html>
